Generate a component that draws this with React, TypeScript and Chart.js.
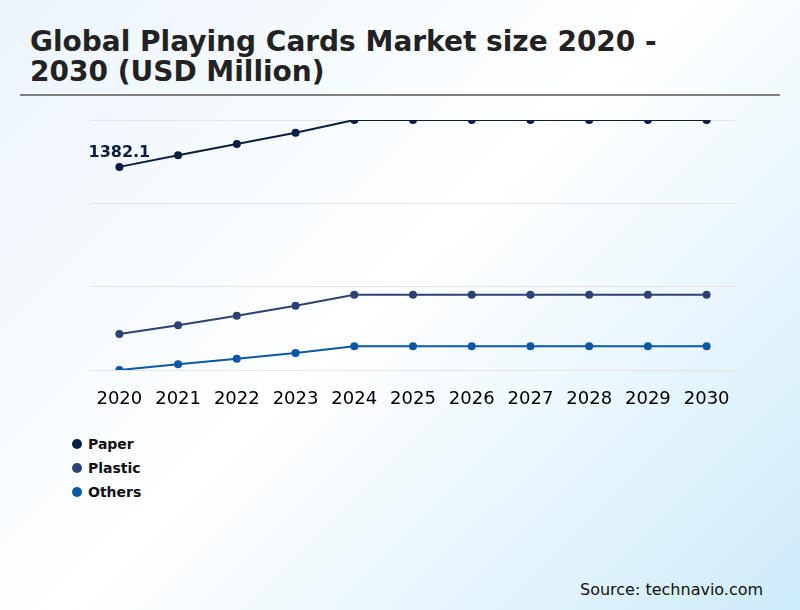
import React, { useEffect, useRef } from "react";
import { Chart, registerables, ChartConfiguration } from "chart.js";

Chart.register(...registerables);

const years = ["2020", "2021", "2022", "2023", "2024", "2025", "2026", "2027", "2028", "2029", "2030"];
const paper = [1382.1, 1450, 1515, 1581, 1655, 1655, 1655, 1655, 1655, 1655, 1655];
const plastic = [410, 460, 516, 574, 638, 638, 638, 638, 638, 638, 638];
const others = [200, 233, 266, 299, 338, 338, 338, 338, 338, 338, 338];
const seriesNames = ["Paper", "Plastic", "Others"];
const seriesColors = ["#0c1d45", "#2e4177", "#0a58a8"];
const firstLabel = "1382.1";

const FONT = "'DejaVu Sans', sans-serif";

// value label above the first Paper point
const labelPlugin = {
  id: "firstLabel",
  afterDatasetsDraw(chart: Chart) {
    const meta = chart.getDatasetMeta(0);
    const pt = meta.data[0];
    if (!pt) return;
    const ctx = chart.ctx;
    ctx.save();
    ctx.font = `bold 16px ${FONT}`;
    ctx.fillStyle = seriesColors[0];
    ctx.textAlign = "center";
    ctx.textBaseline = "middle";
    ctx.fillText(firstLabel, pt.x, pt.y - 14);
    ctx.restore();
  },
};

const LineChart: React.FC = () => {
  const canvasRef = useRef<HTMLCanvasElement>(null);

  useEffect(() => {
    if (!canvasRef.current) return;
    const ctx = canvasRef.current.getContext("2d");
    if (!ctx) return;
    const values = [paper, plastic, others];
    const config: ChartConfiguration<"line", number[], string> = {
      type: "line",
      data: {
        labels: years,
        datasets: values.map((d, i) => ({
          label: seriesNames[i],
          data: d,
          borderColor: seriesColors[i],
          backgroundColor: seriesColors[i],
          borderWidth: 2,
          pointRadius: 3,
          pointHoverRadius: 3,
          tension: 0,
          fill: false,
        })),
      },
      options: {
        responsive: false,
        animation: false,
        layout: { padding: { left: 90, right: 64, top: 20, bottom: 20 } },
        plugins: {
          legend: { display: false },
          tooltip: { enabled: false },
        },
        scales: {
          x: {
            offset: true,
            grid: { display: false, drawTicks: false },
            border: { display: false },
            ticks: {
              color: "#000",
              font: { family: FONT, size: 18 },
              padding: 19,
              maxRotation: 0,
              autoSkip: false,
            },
            afterFit(scale: any) {
              scale.height = 40;
            },
          },
          y: {
            min: 200,
            max: 1655,
            grid: { color: "#e4e4e4", drawTicks: false, lineWidth: 1 },
            border: { display: false },
            ticks: { display: false, count: 4 },
            afterFit(scale: any) {
              scale.width = 0;
            },
          },
        },
      },
      plugins: [labelPlugin],
    };
    const chart = new Chart(ctx, config);
    return () => chart.destroy();
  }, []);

  return (
    <canvas
      ref={canvasRef}
      width={800}
      height={330}
      style={{ position: "absolute", left: 0, top: 100, width: 800, height: 330 }}
    />
  );
};

export default function App() {
  return (
    <div
      style={{
        position: "fixed",
        left: 0,
        top: 0,
        width: 800,
        height: 610,
        overflow: "hidden",
        fontFamily: FONT,
        background: "linear-gradient(135deg, #ecf4fc 0%, #f6fbfe 30%, #ffffff 48%, #e6f5fc 75%, #cdebf8 100%)",
      }}
    >
      <div
        style={{
          position: "absolute",
          left: 30,
          top: 27,
          fontSize: 28,
          lineHeight: "30px",
          fontWeight: "bold",
          color: "#222222",
        }}
      >
        Global Playing Cards Market size 2020 -
        <br />
        2030 (USD Million)
      </div>
      <div
        style={{
          position: "absolute",
          left: 20,
          top: 94,
          width: 760,
          height: 2,
          background: "#808080",
        }}
      />
      <LineChart />
      <div style={{ position: "absolute", left: 72, top: 432 }}>
        {seriesNames.map((name, i) => (
          <div
            key={name}
            style={{ display: "flex", alignItems: "center", height: 24, fontSize: 14, fontWeight: "bold", color: "#111" }}
          >
            <span
              style={{
                display: "inline-block",
                width: 10,
                height: 10,
                borderRadius: "50%",
                background: seriesColors[i],
                marginRight: 6,
              }}
            />
            {name}
          </div>
        ))}
      </div>
      <div
        style={{
          position: "absolute",
          left: 580,
          top: 580,
          fontSize: 16,
          lineHeight: "20px",
          color: "#111",
        }}
      >
        Source: technavio.com
      </div>
    </div>
  );
}
